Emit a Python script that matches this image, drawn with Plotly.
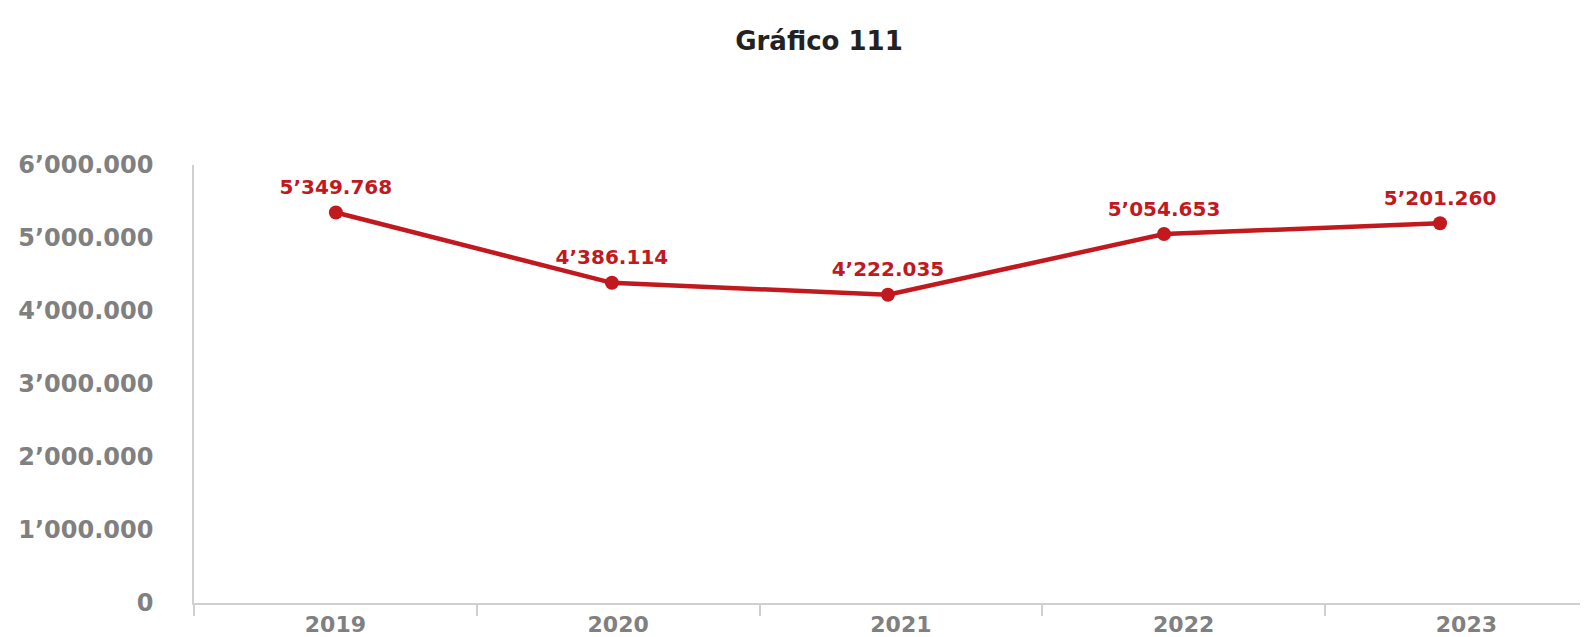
import plotly.graph_objects as go

years = ["2019", "2020", "2021", "2022", "2023"]
year_nums = [2019, 2020, 2021, 2022, 2023]
values = [5349768, 4386114, 4222035, 5054653, 5201260]
value_labels = ["5’349.768", "4’386.114", "4’222.035", "5’054.653", "5’201.260"]
y_ticks = [0, 1000000, 2000000, 3000000, 4000000, 5000000, 6000000]
y_tick_labels = ["0", "1’000.000", "2’000.000", "3’000.000", "4’000.000", "5’000.000", "6’000.000"]

red = "#c1191d"
grey = "#808080"
font = "DejaVu Sans"

# the page body has an 8px margin, so the figure is sized to fit inside it
fig = go.Figure()

# invisible trace that only sets up the category axis
fig.add_trace(go.Scatter(
    x=years, y=[None] * len(years), mode="markers", showlegend=False, hoverinfo="skip",
))

# the line sits on its own (slightly tighter) year scale, as in the original
fig.add_trace(go.Scatter(
    x=year_nums,
    y=values,
    xaxis="x2",
    mode="lines+markers",
    line=dict(color=red, width=4.5),
    marker=dict(color=red, size=14),
    hoverinfo="skip",
))

# data labels
fig.add_trace(go.Scatter(
    x=year_nums,
    y=values,
    xaxis="x2",
    mode="markers+text",
    marker=dict(size=20, opacity=0),
    text=value_labels,
    textposition="top center",
    textfont=dict(family=font, size=20, color=red, weight="bold"),
    cliponaxis=False,
    hoverinfo="skip",
))

fig.update_layout(
    width=1580,
    height=629,
    paper_bgcolor="white",
    plot_bgcolor="white",
    showlegend=False,
    margin=dict(l=186, r=0, t=157, b=34, autoexpand=False),
    title=dict(
        text="<b>Gráfico 111</b>",
        x=811 / 1580,
        xanchor="center",
        y=1 - 33 / 629,
        yanchor="middle",
        font=dict(family=font, size=26, color="#222222"),
    ),
    xaxis=dict(
        type="category",
        range=[-0.5, 4.43],
        automargin=False,
        showline=True,
        linecolor="#d0d0d0",
        linewidth=2,
        ticks="outside",
        tickson="boundaries",
        ticklen=11,
        tickcolor="#d0d0d0",
        tickwidth=1.5,
        showgrid=False,
        tickfont=dict(family=font, size=22, color=grey, weight="bold"),
        ticklabelstandoff=1,
    ),
    xaxis2=dict(
        overlaying="x",
        range=[2018.486, 2023.536],
        visible=False,
        showgrid=False,
        zeroline=False,
    ),
    yaxis=dict(
        range=[0, 6000000],
        automargin=False,
        tickvals=y_ticks,
        ticktext=y_tick_labels,
        showline=True,
        linecolor="#d0d0d0",
        linewidth=1.5,
        showgrid=False,
        zeroline=False,
        tickfont=dict(family=font, size=24, color=grey, weight="bold"),
        ticklabelstandoff=34,
    ),
)

fig.write_html("out.html")
